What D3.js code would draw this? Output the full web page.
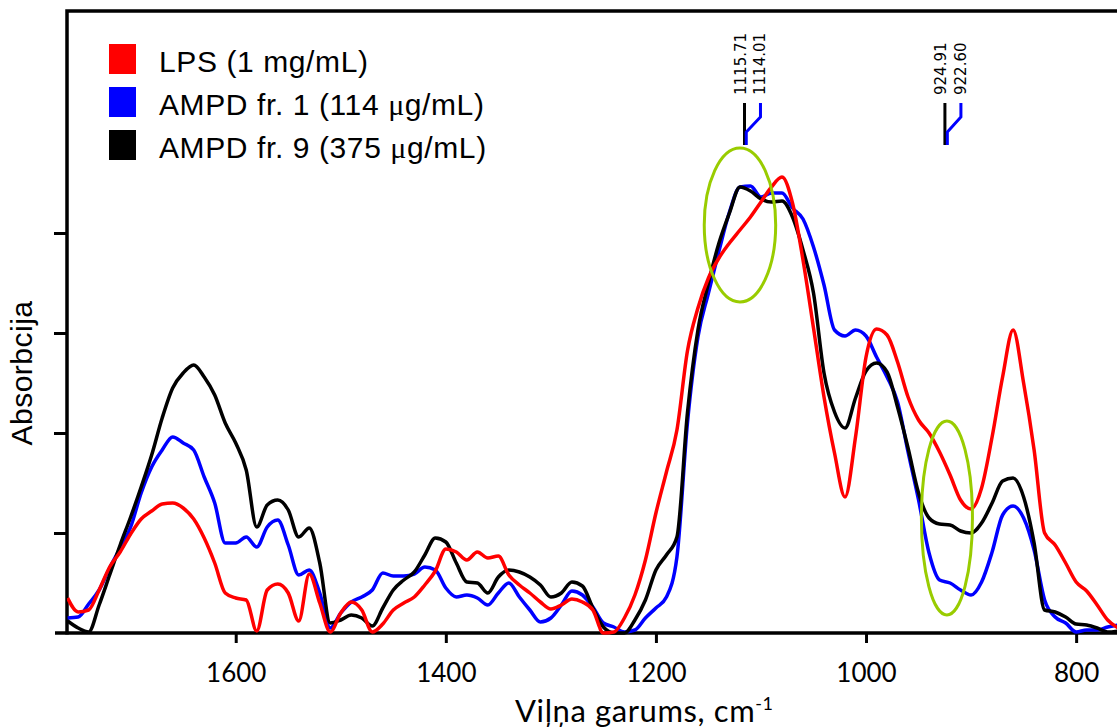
<!DOCTYPE html>
<html>
<head>
<meta charset="utf-8">
<script src="https://cdn.jsdelivr.net/npm/d3@7"></script>
<style>
  body { margin: 0; background: #fff; }
  svg  { display: block; }
</style>
</head>
<body>
<script>
var width  = 1117;
var height = 728;

// wavenumber grid, cm-1 (read every 10 cm-1 off the picture)
var wavenumbers = [
  1760, 1750, 1740, 1730, 1720, 1710, 1700, 1690, 1680, 1670,
  1660, 1650, 1640, 1630, 1620, 1610, 1600, 1590, 1580, 1570,
  1560, 1550, 1540, 1530, 1520, 1510, 1500, 1490, 1480, 1470,
  1460, 1450, 1440, 1430, 1420, 1410, 1400, 1390, 1380, 1370,
  1360, 1350, 1340, 1330, 1320, 1310, 1300, 1290, 1280, 1270,
  1260, 1250, 1240, 1230, 1220, 1210, 1200, 1190, 1180, 1170,
  1160, 1150, 1140, 1130, 1120, 1110, 1100, 1090, 1080, 1070,
  1060, 1050, 1040, 1030, 1020, 1010, 1000,  990,  980,  970,
   960,  950,  940,  930,  920,  910,  900,  890,  880,  870,
   860,  850,  840,  830,  820,  810,  800,  790,  780,  770,
   760
];

var lpsValues = [
  0.35, 0.21, 0.23, 0.43, 0.66, 0.81, 0.99, 1.14, 1.22, 1.29,
  1.30, 1.25, 1.14, 0.95, 0.70, 0.40, 0.35, 0.33, 0.02, 0.43,
  0.49, 0.40, 0.12, 0.59, 0.30, 0.01, 0.20, 0.31, 0.23, 0.01,
  0.09, 0.23, 0.30, 0.36, 0.48, 0.62, 0.84, 0.81, 0.73, 0.81,
  0.75, 0.77, 0.58, 0.48, 0.40, 0.31, 0.24, 0.28, 0.34, 0.31,
  0.23, 0.00, 0.01, 0.15, 0.38, 0.73, 1.20, 1.61, 2.03, 2.82,
  3.25, 3.55, 3.75, 3.90, 4.03, 4.16, 4.31, 4.46, 4.56, 4.30,
  3.73, 3.05, 2.36, 1.80, 1.36, 1.96, 2.76, 3.04, 2.98, 2.71,
  2.36, 2.13, 2.00, 1.81, 1.58, 1.33, 1.24, 1.45, 1.96, 2.56,
  3.03, 2.50, 1.83, 1.00, 0.88, 0.70, 0.51, 0.42, 0.28, 0.13,
  0.05
];

var fr1Values = [
  0.15, 0.16, 0.29, 0.43, 0.65, 0.85, 1.06, 1.40, 1.66, 1.83,
  1.96, 1.90, 1.83, 1.56, 1.30, 0.90, 0.90, 0.96, 0.86, 1.06,
  1.13, 0.88, 0.58, 0.63, 0.40, 0.05, 0.20, 0.31, 0.36, 0.43,
  0.60, 0.57, 0.57, 0.59, 0.66, 0.63, 0.45, 0.36, 0.38, 0.35,
  0.28, 0.40, 0.50, 0.36, 0.23, 0.11, 0.15, 0.28, 0.42, 0.38,
  0.26, 0.10, 0.06, 0.01, 0.03, 0.15, 0.25, 0.36, 0.76, 2.10,
  2.96, 3.40, 3.82, 4.21, 4.46, 4.47, 4.36, 4.40, 4.40, 4.25,
  4.14, 3.86, 3.48, 3.03, 2.97, 3.03, 2.97, 2.76, 2.56, 2.31,
  1.81, 1.33, 0.80, 0.53, 0.50, 0.43, 0.38, 0.51, 0.81, 1.18,
  1.27, 1.15, 0.83, 0.33, 0.16, 0.10, 0.01, 0.03, 0.03, 0.06,
  0.08
];

var fr9Values = [
  0.12, 0.05, 0.01, 0.28, 0.58, 0.88, 1.16, 1.46, 1.78, 2.15,
  2.45, 2.60, 2.68, 2.56, 2.38, 2.10, 1.90, 1.63, 1.06, 1.28,
  1.33, 1.23, 0.96, 1.05, 0.70, 0.10, 0.13, 0.18, 0.15, 0.07,
  0.25, 0.43, 0.53, 0.61, 0.78, 0.95, 0.91, 0.70, 0.51, 0.50,
  0.40, 0.56, 0.63, 0.61, 0.56, 0.48, 0.36, 0.40, 0.51, 0.47,
  0.25, 0.06, 0.00, 0.00, 0.13, 0.33, 0.63, 0.78, 0.96, 2.20,
  3.03, 3.50, 3.90, 4.20, 4.46, 4.42, 4.34, 4.31, 4.32, 4.16,
  3.83, 3.40, 2.60, 2.21, 2.05, 2.35, 2.62, 2.70, 2.61, 2.26,
  1.85, 1.40, 1.15, 1.09, 1.08, 1.02, 1.00, 1.10, 1.30, 1.52,
  1.55, 1.36, 0.90, 0.23, 0.21, 0.16, 0.09, 0.08, 0.05, 0.01,
  0.02
];

var seriesNames  = ['LPS (1 mg/mL)', 'AMPD fr. 1 (114 μg/mL)', 'AMPD fr. 9 (375 μg/mL)'];
var seriesColors = ['#ff0000', '#0000ff', '#000000'];

var xTicks = [1600, 1400, 1200, 1000, 800];
var yTicks = [1, 2, 3, 4];

// peak labels (fr. 9 black, fr. 1 blue)
var peakBlack = [1115.71, 924.91];
var peakBlue  = [1114.01, 922.60];

// green highlight ellipses, in data units
var ellipseX  = [1120, 923];
var ellipseY  = [4.08, 1.15];
var ellipseRx = [34, 24.3];
var ellipseRy = [0.77, 0.97];

var plotLeft = 67, plotRight = 1117, plotTop = 11, plotBottom = 633;

var x = d3.scaleLinear().domain([1760.6, 761.1]).range([plotLeft, plotRight]);
var y = d3.scaleLinear().domain([0, 6.22]).range([plotBottom, plotTop]);

var svg = d3.select('body')
            .append('svg')
            .attr('width', width)
            .attr('height', height);

svg.append('defs').append('clipPath')
   .attr('id', 'plot')
   .append('rect')
   .attr('x', plotLeft).attr('y', 0)
   .attr('width', plotRight - plotLeft).attr('height', plotBottom + 2);

// x axis ticks + labels
var xAxis = svg.append('g')
               .attr('transform', 'translate(0,' + plotBottom + ')')
               .call(d3.axisBottom(x).tickValues(xTicks).tickFormat(d3.format('d'))
                       .tickSize(10).tickSizeOuter(0).tickPadding(21));
xAxis.select('.domain').remove();
xAxis.selectAll('line').attr('stroke', '#000').attr('stroke-width', 3);
xAxis.selectAll('text')
     .attr('font-family', 'Lato, sans-serif')
     .attr('font-size', '26px')
     .attr('fill', '#000');

// y axis ticks, no labels
var yAxis = svg.append('g')
               .attr('transform', 'translate(' + plotLeft + ',0)')
               .call(d3.axisLeft(y).tickValues(yTicks).tickSize(13).tickSizeOuter(0).tickFormat(''));
yAxis.select('.domain').remove();
yAxis.selectAll('line').attr('stroke', '#000').attr('stroke-width', 3);

// frame
svg.append('path')
   .attr('d', 'M' + plotRight + ',' + plotTop + 'H' + plotLeft + 'V' + (plotBottom + 1.5))
   .attr('fill', 'none').attr('stroke', '#000').attr('stroke-width', 3.5);
svg.append('path')
   .attr('d', 'M55,' + plotBottom + 'H' + plotRight)
   .attr('fill', 'none').attr('stroke', '#000').attr('stroke-width', 3.5);

// spectra
var line = d3.line()
             .x(function(d, i){ return x(wavenumbers[i]); })
             .y(function(d){ return y(d); })
             .curve(d3.curveMonotoneX);

var drawOrder = [[fr1Values, 1], [fr9Values, 2], [lpsValues, 0]];
svg.append('g')
   .attr('clip-path', 'url(#plot)')
   .selectAll('path')
   .data(drawOrder)
   .enter()
   .append('path')
   .attr('d', function(d){ return line(d[0]); })
   .attr('fill', 'none')
   .attr('stroke', function(d){ return seriesColors[d[1]]; })
   .attr('stroke-width', 3.5)
   .attr('stroke-linejoin', 'round');

// green ellipses
svg.selectAll('ellipse.mark')
   .data(ellipseX)
   .enter()
   .append('ellipse')
   .attr('class', 'mark')
   .attr('cx', function(d){ return x(d); })
   .attr('cy', function(d, i){ return y(ellipseY[i]); })
   .attr('rx', function(d, i){ return Math.abs(x(d + ellipseRx[i]) - x(d)); })
   .attr('ry', function(d, i){ return Math.abs(y(ellipseRy[i]) - y(0)); })
   .attr('fill', 'none')
   .attr('stroke', '#99cc00')
   .attr('stroke-width', 3);

// peak markers
var markTop = 103, markBottom = 145;
peakBlack.forEach(function(v, i){
  var xb = x(v), xu = x(peakBlue[i]);
  svg.append('path')
     .attr('d', 'M' + xb + ',' + markTop + 'V' + markBottom)
     .attr('fill', 'none').attr('stroke', '#000').attr('stroke-width', 3);
  svg.append('path')
     .attr('d', 'M' + (xb + 16) + ',' + markTop + 'V' + 117 + 'L' + xu + ',' + 132 + 'V' + markBottom)
     .attr('fill', 'none').attr('stroke', '#0000ff').attr('stroke-width', 3);
  svg.append('text')
     .attr('transform', 'translate(' + (xb + 1.5) + ',95) rotate(-90)')
     .attr('font-family', '"DejaVu Sans", sans-serif')
     .attr('font-size', '15px')
     .text(v.toFixed(2));
  svg.append('text')
     .attr('transform', 'translate(' + (xb + 21) + ',95) rotate(-90)')
     .attr('font-family', '"DejaVu Sans", sans-serif')
     .attr('font-size', '15px')
     .text(peakBlue[i].toFixed(2));
});

// legend
var legend = svg.append('g');
seriesNames.forEach(function(name, i){
  legend.append('rect')
        .attr('x', 109).attr('y', 44 + i * 43)
        .attr('width', 27).attr('height', 30)
        .attr('fill', seriesColors[i]);
  var t = legend.append('text')
                .attr('x', 159).attr('y', 72 + i * 43)
                .attr('font-family', '"Liberation Sans", Arial, sans-serif')
                .attr('font-size', '30px')
                .attr('letter-spacing', '0.6px')
                .attr('fill', '#000');
  var parts = name.split('μ');
  t.append('tspan').text(parts[0]);
  if (parts.length > 1) {
    t.append('tspan').attr('font-family', '"Liberation Serif", serif').text('μ');
    t.append('tspan').text(parts[1]);
  }
});

// axis titles
svg.append('text')
   .attr('transform', 'translate(32,373) rotate(-90)')
   .attr('text-anchor', 'middle')
   .attr('font-family', '"Liberation Sans", Arial, sans-serif')
   .attr('font-size', '30px')
   .attr('letter-spacing', '0.5px')
   .text('Absorbcija');

var xt = svg.append('text')
            .attr('x', 515).attr('y', 722)
            .attr('font-family', 'Lato, sans-serif')
            .attr('font-size', '31px')
            .attr('letter-spacing', '0.6px');
xt.append('tspan').text('Viļņa garums, cm');
xt.append('tspan').attr('font-size', '18px').attr('dy', -12).text('-1');
</script>
</body>
</html>
